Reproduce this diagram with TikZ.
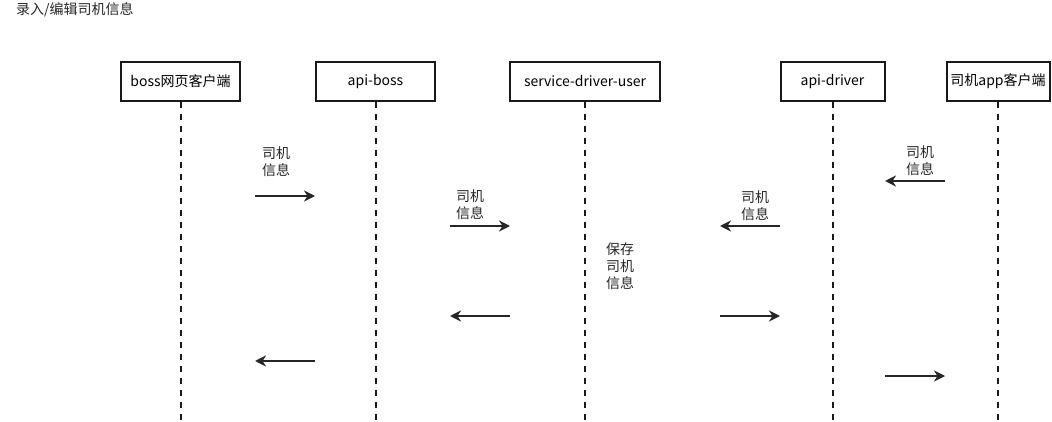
\documentclass[tikz,border=0pt]{standalone}
\usepackage{fontspec}
\setmainfont{Noto Sans CJK SC}
\usetikzlibrary{arrows.meta, positioning}

\begin{document}
\begin{tikzpicture}[
    x=1pt, y=-1pt,
    actor/.style={rectangle, draw=black!90, line width=2pt, minimum height=39pt, inner sep=0pt, font=\fontsize{14}{16}\selectfont},
    lifeline/.style={draw=black!90, line width=2pt, dash pattern=on 6pt off 6pt},
    msg/.style={-{Stealth[length=11pt, width=11pt, inset=3.5pt]}, line width=2pt, draw=black!85},
    note/.style={align=center, inner sep=0pt, font=\fontsize{14}{17}\selectfont, text=black!85},
]
\useasboundingbox (0,0) rectangle (1052,422);

% Title
\node[note, anchor=west] (title) at (16,10) {录入/编辑司机信息};

% Participants
\node[actor, minimum width=119pt] (bossweb) at (180.5,81.5) {boss网页客户端};
\node[actor, minimum width=119pt] (apiboss) at (375.5,81.5) {api-boss};
\node[actor, minimum width=150pt] (driveruser) at (585,81.5) {service-driver-user};
\node[actor, minimum width=104pt] (apidriver) at (832.5,81.5) {api-driver};
\node[actor, minimum width=103pt] (driverapp) at (998,81.5) {司机app客户端};

% Lifelines
\coordinate (bottom) at (0,421);
\foreach \n in {bossweb, apiboss, driveruser, apidriver, driverapp}
    \draw[lifeline] (\n.south) -- (\n.south |- bottom);

% Messages
\foreach \i/\xa/\xb/\y in {1/255/315/196, 2/450/510/226, 3/945/885/181, 4/780/720/226,
                           5/510/450/316, 6/720/780/316, 7/315/255/361, 8/885/945/376} {
    \coordinate (m\i a) at (\xa,\y);
    \coordinate (m\i b) at (\xb,\y);
    \draw[msg] (m\i a) -- (m\i b);
}

% Message labels
\node[note] (info1) at (276,162) {司机\\信息};
\node[note] (info2) at (470,205) {司机\\信息};
\node[note] (info3) at (920,161) {司机\\信息};
\node[note] (info4) at (755,206) {司机\\信息};
\node[note] (save) at (620,266) {保存\\司机\\信息};

\end{tikzpicture}
\end{document}
